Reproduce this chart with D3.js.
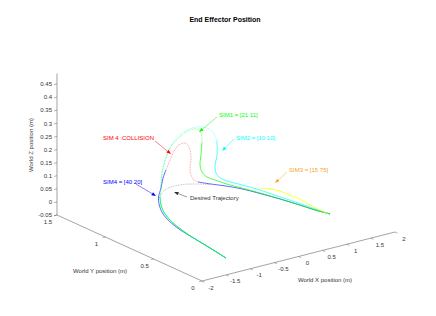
<!DOCTYPE html>
<html><head><meta charset="utf-8">
<script src="https://cdn.jsdelivr.net/npm/d3@7"></script>
<style>body{margin:0;background:#fff}svg{display:block}text{font-family:"Liberation Sans",Arial,sans-serif}</style>
</head><body><svg id="c" width="436" height="316"></svg>
<script>
// ---- data (X, Y, Z in metres) ----
const xTicks = [-2, -1.5, -1, -0.5, 0, 0.5, 1, 1.5, 2];
const xTickLabels = ["-2", "-1.5", "-1", "-0.5", "0", "0.5", "1", "1.5", "2"];
const yTicks = [0, 0.5, 1, 1.5];
const yTickLabels = ["0", "0.5", "1", "1.5"];
const zTicks = [-0.05, 0, 0.05, 0.1, 0.15, 0.2, 0.25, 0.3, 0.35, 0.4, 0.45];
const zTickLabels = ["-0.05", "0", "0.05", "0.1", "0.15", "0.2", "0.25", "0.3", "0.35", "0.4", "0.45"];

const sim1 = [[-1.102,0.2,-0.038],[-1.333,0.25,0.003],[-1.544,0.3,0.039],[-1.713,0.35,0.072],[-1.820,0.4,0.100],[-1.865,0.45,0.124],[-1.848,0.5,0.149],[-1.868,0.5,0.180],
  [-1.848,0.5,0.225],[-1.827,0.5,0.274],[-1.744,0.5,0.324],[-1.620,0.5,0.367],[-1.433,0.5,0.393],[-1.247,0.5,0.407],[-1.102,0.5,0.404],[-1.019,0.5,0.385],[-0.998,0.5,0.350],
  [-1.019,0.5,0.301],[-1.039,0.5,0.264],[-0.998,0.5,0.235],[-0.894,0.5,0.211],[-0.728,0.5,0.192],[-0.521,0.5,0.169],[-0.169,0.5,0.135],[0.204,0.5,0.099],[0.418,0.4,0.083],[0.833,0.4,0.040],[1.144,0.4,0.007],[1.455,0.4,-0.023]];

const sim2 = [[-1.102,0.2,-0.038],[-1.333,0.25,0.003],[-1.544,0.3,0.039],[-1.713,0.35,0.072],[-1.820,0.4,0.100],[-1.865,0.45,0.124],[-1.848,0.5,0.149],[-1.868,0.5,0.180],
  [-1.848,0.5,0.225],[-1.806,0.5,0.281],[-1.723,0.5,0.334],[-1.599,0.5,0.374],[-1.433,0.5,0.401],[-1.205,0.5,0.413],[-0.977,0.5,0.406],[-0.791,0.5,0.382],[-0.687,0.5,0.339],
  [-0.687,0.5,0.286],[-0.728,0.5,0.245],[-0.708,0.5,0.218],[-0.625,0.5,0.195],[-0.480,0.5,0.177],[-0.169,0.5,0.147],[0.204,0.5,0.110],[0.418,0.4,0.091],[0.833,0.4,0.046],[1.144,0.4,0.011],[1.455,0.4,-0.023]];

const sim3 = [[0.004,0.4,0.144],[0.211,0.4,0.131],[0.418,0.4,0.113],[0.626,0.4,0.088],[0.833,0.4,0.063],[1.040,0.4,0.031],[1.247,0.4,0.002],[1.413,0.4,-0.021]];

const sim4 = [[-1.102,0.2,-0.038],[-1.333,0.25,0.003],[-1.544,0.3,0.039],[-1.734,0.35,0.072],[-1.862,0.4,0.102],[-1.917,0.45,0.130],[-1.889,0.5,0.155],[-1.899,0.5,0.182],
  [-1.848,0.5,0.214],[-1.806,0.5,0.250],[-1.744,0.5,0.278],
  [-1.081,0.5,0.201],[-0.832,0.5,0.182],[-0.521,0.5,0.160],[-0.169,0.5,0.132],[0.204,0.5,0.097],[0.418,0.4,0.083],[0.833,0.4,0.040],[1.144,0.4,0.007],[1.455,0.4,-0.023]];

const sim4Collision = [[-1.744,0.5,0.278],[-1.661,0.5,0.312],[-1.578,0.5,0.342],[-1.475,0.5,0.361],[-1.350,0.5,0.362],[-1.267,0.5,0.343],[-1.226,0.5,0.303],[-1.247,0.5,0.262],[-1.226,0.5,0.234],[-1.164,0.5,0.212],[-1.081,0.5,0.201]];

const desired = [[-1.889,0.5,0.178],[-1.806,0.5,0.197],[-1.703,0.5,0.207],[-1.558,0.5,0.208],[-1.392,0.5,0.206],[-1.205,0.5,0.199],[-1.039,0.5,0.191],[-0.832,0.5,0.180]];

const annotations = [
  {text: "SIM1 = [21 11]", color: "#00ff00", tx: 219, ty: 115, from: [217,117], to: [199,132]},
  {text: "SIM2 = [10 10]", color: "#00ffff", tx: 236, ty: 138, from: [234,139], to: [222,151]},
  {text: "SIM3 = [15 75]", color: "#f5a623", tx: 289, ty: 170, from: [287,172], to: [275,183]},
  {text: "SIM 4 :COLLISION", color: "#ff0000", tx: 103, ty: 138, from: [155,141], to: [171,154]},
  {text: "SIM4 = [40 20]", color: "#0000ff", tx: 103, ty: 182, from: [136,184], to: [156,196]},
  {text: "Desired Trajectory", color: "#333333", tx: 190, ty: 198, from: [187,197], to: [174,192]}
];

// ---- projection built from linear scales (orthographic 3-D view) ----
const svg = d3.select("#c");
const ox = 202, oy = 281;
const xPx = d3.scaleLinear().domain([-2, 2]).range([0, 193]);
const xPy = d3.scaleLinear().domain([-2, 2]).range([0, -49]);
const yPx = d3.scaleLinear().domain([0, 1.5]).range([0, -145]);
const yPy = d3.scaleLinear().domain([0, 1.5]).range([0, -66]);
const zPy = d3.scaleLinear().domain([-0.05, 0.45]).range([0, -131]);
const proj = d => [ox + xPx(d[0]) + yPx(d[1]), oy + xPy(d[0]) + yPy(d[1]) + zPy(d[2])];

const axisCol = "#666", fs = 6;
const zMin = -0.05, zMax = 0.49;
function seg(a, b, col, w) {
  const p = proj(a), q = proj(b);
  svg.append("line").attr("x1", p[0]).attr("y1", p[1]).attr("x2", q[0]).attr("y2", q[1])
    .attr("stroke", col).attr("stroke-width", w);
}
// axes
seg([-2,0,zMin],[2,0,zMin], axisCol, 0.6);
seg([-2,0,zMin],[-2,1.5,zMin], axisCol, 0.6);
seg([-2,1.5,zMin],[-2,1.5,zMax], axisCol, 0.6);

// x ticks
xTicks.forEach((t, i) => {
  const p = proj([t, 0, zMin]);
  svg.append("line").attr("x1", p[0]).attr("y1", p[1]).attr("x2", p[0] + 2.6).attr("y2", p[1] + 1.2)
    .attr("stroke", axisCol).attr("stroke-width", 0.5);
  svg.append("text").attr("x", p[0] + 9).attr("y", p[1] + 8.5).attr("text-anchor", "middle")
    .attr("font-size", fs).attr("fill", "#333").text(xTickLabels[i]);
});
// y ticks
yTicks.forEach((t, i) => {
  const p = proj([-2, t, zMin]);
  svg.append("line").attr("x1", p[0]).attr("y1", p[1]).attr("x2", p[0] - 2.8).attr("y2", p[1] + 0.7)
    .attr("stroke", axisCol).attr("stroke-width", 0.5);
  svg.append("text").attr("x", p[0] - 9).attr("y", p[1] + 8.5).attr("text-anchor", "middle")
    .attr("font-size", fs).attr("fill", "#333").text(yTickLabels[i]);
});
// z ticks
zTicks.forEach((t, i) => {
  const p = proj([-2, 1.5, t]);
  svg.append("line").attr("x1", p[0]).attr("y1", p[1]).attr("x2", p[0] - 3).attr("y2", p[1] + 0.7)
    .attr("stroke", axisCol).attr("stroke-width", 0.5);
  svg.append("text").attr("x", p[0] - 5).attr("y", p[1] + 2.2).attr("text-anchor", "end")
    .attr("font-size", fs).attr("fill", "#333").text(zTickLabels[i]);
});

// axis titles
svg.append("text").attr("x", 225).attr("y", 21.5).attr("text-anchor", "middle")
  .attr("font-size", 7).attr("font-weight", "bold").attr("fill", "#000").text("End Effector Position");
svg.append("text").attr("x", 100).attr("y", 273).attr("text-anchor", "middle")
  .attr("font-size", fs).attr("fill", "#333").text("World Y position (m)");
svg.append("text").attr("x", 325).attr("y", 282).attr("text-anchor", "middle")
  .attr("font-size", fs).attr("fill", "#333").text("World X position (m)");
svg.append("text").attr("transform", "translate(33,145) rotate(-90)").attr("text-anchor", "middle")
  .attr("font-size", fs).attr("fill", "#333").text("World Z position (m)");

// trajectories
const line = d3.line().x(d => proj(d)[0]).y(d => proj(d)[1]).curve(d3.curveCatmullRom.alpha(0.5));
function path(pts, col, w, dash, op) {
  const p = svg.append("path").attr("d", line(pts)).attr("fill", "none")
    .attr("stroke", col).attr("stroke-width", w).attr("stroke-linejoin", "round")
    .attr("stroke-opacity", op || 1);
  if (dash) p.attr("stroke-dasharray", dash);
}
// desired trajectory
path(desired, "#888", 0.6, "0.8,0.9");
// SIM4 (blue) without collision arc
path(sim4.slice(0, 11), "#0000ff", 0.6);
path(sim4.slice(11), "#0000ff", 0.6);
// SIM2 cyan
path(sim2.slice(0, 8), "#00ffff", 0.7);
path(sim2.slice(7, 17), "#00ffff", 0.6, "0.8,0.8", 0.8);
path(sim2.slice(16), "#00ffff", 0.7);
// SIM1 green
path(sim1.slice(0, 8), "#00ff00", 0.7);
path(sim1.slice(7, 17), "#00ff00", 0.6, "0.8,0.8", 0.8);
path(sim1.slice(16), "#00ff00", 0.7);
// SIM3 yellow
path(sim3, "#ffff00", 0.8);
// SIM4 collision (red)
path(sim4Collision, "#ff0000", 0.6, "0.9,0.7", 0.6);

// annotations
annotations.forEach(a => {
  const [x1, y1] = a.from, [x2, y2] = a.to;
  const ang = Math.atan2(y2 - y1, x2 - x1);
  const L = 4.5, Wd = 1.8;
  const bx = x2 - L * Math.cos(ang), by = y2 - L * Math.sin(ang);
  svg.append("line").attr("x1", x1).attr("y1", y1).attr("x2", bx).attr("y2", by)
    .attr("stroke", a.color).attr("stroke-width", 0.5);
  const px = -Math.sin(ang) * Wd, py = Math.cos(ang) * Wd;
  svg.append("path").attr("d", `M${x2},${y2}L${bx + px},${by + py}L${bx - px},${by - py}Z`).attr("fill", a.color);
  svg.append("text").attr("x", a.tx).attr("y", a.ty + 2.2).attr("font-size", fs).attr("fill", a.color).text(a.text);
});
</script></body></html>
